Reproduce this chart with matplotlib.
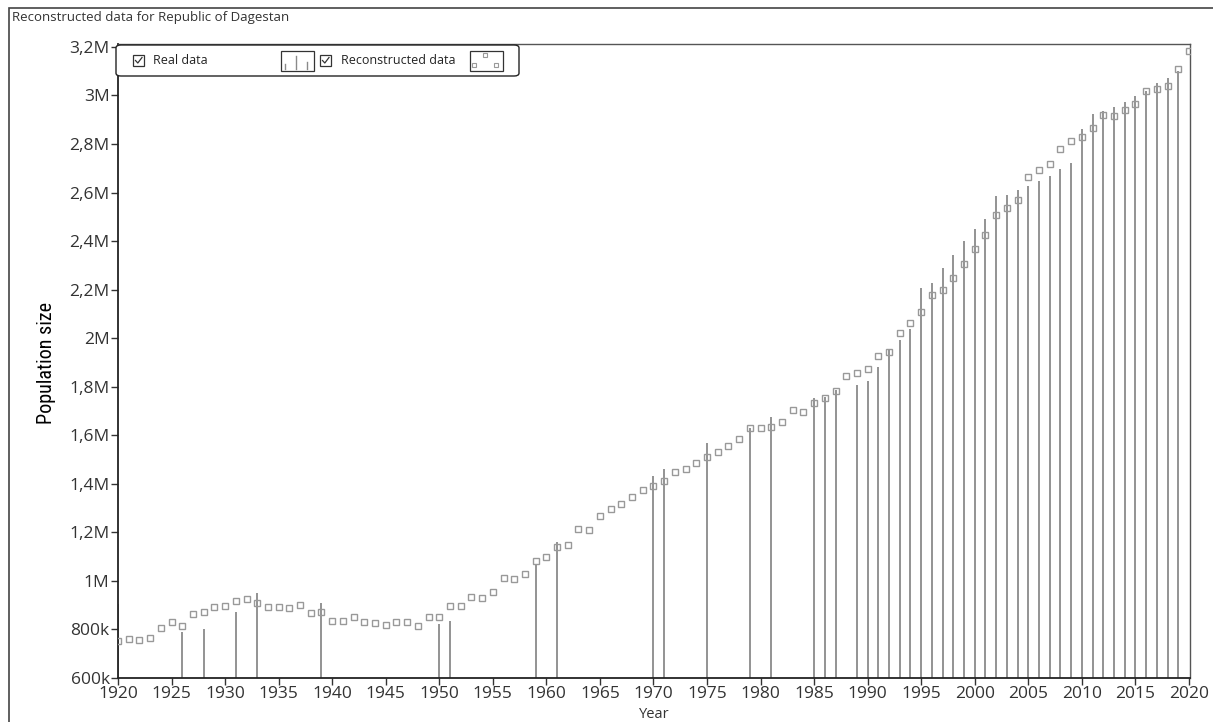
import matplotlib.pyplot as plt
from matplotlib.patches import Rectangle, FancyBboxPatch
from matplotlib.lines import Line2D

W, H = 1213, 722

# reconstructed yearly population, thousands (1920 .. 2020)
rec_years = list(range(1920, 2021))
rec_vals = [
    753, 762, 756, 764, 806, 830, 815, 863, 871, 892,
    898, 918, 926, 907, 892, 892, 888, 900, 867, 871,
    834, 834, 850, 830, 827, 820, 830, 830, 816, 850,
    850, 896, 896, 934, 930, 955, 1010, 1006, 1029, 1082,
    1098, 1141, 1149, 1214, 1210, 1269, 1296, 1317, 1344, 1376,
    1391, 1411, 1449, 1460, 1484, 1511, 1533, 1556, 1584, 1628,
    1632, 1636, 1655, 1703, 1695, 1731, 1754, 1783, 1846, 1857,
    1873, 1926, 1945, 2021, 2061, 2109, 2177, 2197, 2249, 2305,
    2368, 2427, 2508, 2536, 2571, 2663, 2691, 2718, 2779, 2811,
    2830, 2866, 2918, 2914, 2939, 2966, 3017, 3025, 3038, 3108,
    3184,
]

# census / registered counts, thousands
real_years = [1920, 1926, 1928, 1931, 1933, 1939, 1950, 1951, 1959, 1961,
              1970, 1971, 1975, 1979, 1981, 1985, 1986, 1987] + list(range(1989, 2020))
real_vals = [904, 789, 800, 872, 951, 908, 823, 835, 1065, 1161,
             1434, 1461, 1569, 1630, 1674, 1754, 1758, 1787,
             1809, 1824, 1881, 1950, 1994, 2039, 2205, 2226, 2289, 2342,
             2401, 2449, 2493, 2585, 2589, 2609, 2628, 2648, 2669, 2697,
             2720, 2860, 2924, 2937, 2954, 2974, 2998, 3020, 3050, 3072, 3100]

y_ticks = [600, 800, 1000, 1200, 1400, 1600, 1800, 2000, 2200, 2400, 2600, 2800, 3000, 3200]
y_labels = ['600k', '800k', '1M', '1,2M', '1,4M', '1,6M', '1,8M', '2M',
            '2,2M', '2,4M', '2,6M', '2,8M', '3M', '3,2M']
x_ticks = list(range(1920, 2021, 5))

plt.rcParams['font.family'] = ['Open Sans', 'DejaVu Sans']

gray = '#8a8a8a'
sq_gray = '#999999'
ymin = 600

fig = plt.figure(figsize=(W / 100, H / 100), dpi=100)
fig.patch.set_facecolor('white')


def px(x, y):
    # pixel position (from top-left) -> figure fraction
    return x / W, 1 - y / H


ax = fig.add_axes([118 / W, 1 - 678 / H, (1190 - 118) / W, (678 - 44) / H])

ax.vlines(real_years, ymin, real_vals, color=gray, lw=1.3, zorder=2)
ax.plot(rec_years, rec_vals, ls='none', marker='s', ms=4.2, mfc='none',
        mec=sq_gray, mew=1.0, zorder=3)

ax.set_xlim(1920, 2020.1)
ax.set_ylim(ymin, 3212)
ax.set_xticks(x_ticks)
ax.set_xticklabels([str(t) for t in x_ticks])
ax.set_yticks(y_ticks)
ax.set_yticklabels(y_labels)
ax.tick_params(axis='both', direction='out', length=5, width=1, color='#333333',
               labelsize=12.5, labelcolor='#333333', pad=1)

for side in ['left', 'bottom']:
    ax.spines[side].set_color('#222222')
    ax.spines[side].set_linewidth(1.3)
for side in ['top', 'right']:
    ax.spines[side].set_color('#555555')
    ax.spines[side].set_linewidth(1.0)

ax.set_xlabel('Year', fontsize=10.5, color='#333333', labelpad=3)
fig.text(46 / W, 1 - 363 / H, 'Population size', rotation=90, ha='center', va='center',
         fontsize=14.5, family=['Liberation Sans Narrow', 'Roboto Condensed', 'Roboto'],
         color='black')

# outer frame and title
fig.add_artist(Rectangle(px(9, 760), (W + 20) / W, 752 / H, transform=fig.transFigure,
                         fill=False, ec='#444444', lw=1.2))
fig.text(12 / W, 1 - 18 / H, 'Reconstructed data for Republic of Dagestan',
         fontsize=9.5, color='#333333', va='center', ha='left')

# legend panel
lx0, ly0, lx1, ly1 = 116, 45, 519, 76
fig.add_artist(FancyBboxPatch(px(lx0, ly1), (lx1 - lx0) / W, (ly1 - ly0) / H,
                              boxstyle='round,pad=0,rounding_size=0.004',
                              transform=fig.transFigure, fc='white', ec='#222222',
                              lw=1.0, zorder=5))


def checkbox(x, y):
    fig.add_artist(Rectangle(px(x, y + 11), 11 / W, 11 / H, transform=fig.transFigure,
                             fill=False, ec='#333333', lw=0.9, zorder=6))
    xs = [x + 2.5, x + 4.8, x + 9]
    ys = [y + 5.5, y + 8, y + 2.5]
    fig.add_artist(Line2D([px(a, b)[0] for a, b in zip(xs, ys)],
                          [px(a, b)[1] for a, b in zip(xs, ys)],
                          transform=fig.transFigure, color='#333333', lw=0.9, zorder=6))


def sample_box(x, y, w, h):
    fig.add_artist(Rectangle(px(x, y + h), w / W, h / H, transform=fig.transFigure,
                             fill=False, ec='#333333', lw=0.9, zorder=6))


checkbox(133, 55)
fig.text(153 / W, 1 - 60.5 / H, 'Real data', fontsize=9, color='#222222',
         va='center', ha='left', zorder=6)
sample_box(281, 51, 33, 20)
for sx, top in [(285, 64), (296, 56), (307, 62)]:
    fig.add_artist(Line2D([sx / W, sx / W], [1 - 69 / H, 1 - top / H],
                          transform=fig.transFigure, color=gray, lw=1.0, zorder=6))

checkbox(320, 55)
fig.text(341 / W, 1 - 60.5 / H, 'Reconstructed data', fontsize=9, color='#222222',
         va='center', ha='left', zorder=6)
sample_box(470, 51, 33, 20)
for sx, sy in [(474, 65), (485, 55), (496, 65)]:
    fig.add_artist(Line2D([sx / W], [1 - sy / H], marker='s', ms=3.2, mfc='none',
                          mec=sq_gray, mew=0.8, transform=fig.transFigure, zorder=6))

plt.savefig('out.png', dpi=100, facecolor='white')
